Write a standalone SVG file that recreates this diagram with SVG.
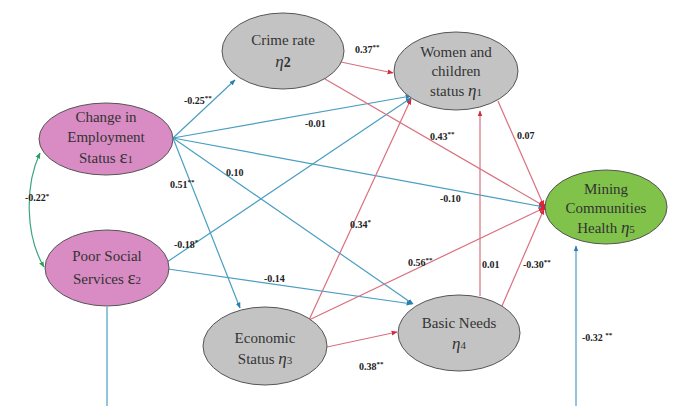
<svg xmlns="http://www.w3.org/2000/svg" width="674" height="406" viewBox="0 0 674 406" font-family="'Liberation Serif', 'Times New Roman', 'DejaVu Serif', 'Noto Serif', serif">
<style>
.node{stroke:#555;stroke-width:1}
.pink{fill:#d98bc3}
.gray{fill:#c3c3c3}
.green{fill:#80c24a}
.t{font-size:15px;fill:#333;text-anchor:middle}
.g{font-style:italic;font-size:17px}
.e{font-size:19px}
.s{font-size:11px}
.lbl{font-size:10px;font-weight:bold;fill:#222}
.sup{font-size:7px}
.b{stroke:#4a9ec2;stroke-width:1.2;fill:none}
.r{stroke:#d9707e;stroke-width:1.2;fill:none}
.c{stroke:#3aa57e;stroke-width:1.2;fill:none}
</style>
<defs>
<marker id="ab" viewBox="0 0 10 10" refX="9" refY="5" markerWidth="5" markerHeight="5" orient="auto-start-reverse"><path d="M0,1 L10,5 L0,9 z" fill="#2b7fb0"/></marker>
<marker id="ar" viewBox="0 0 10 10" refX="9" refY="5" markerWidth="5" markerHeight="5" orient="auto"><path d="M0,1 L10,5 L0,9 z" fill="#d8283c"/></marker>
<marker id="ag" viewBox="0 0 10 10" refX="9" refY="5" markerWidth="5" markerHeight="5" orient="auto-start-reverse"><path d="M0,1 L10,5 L0,9 z" fill="#27a05a"/></marker>
</defs>
<rect width="674" height="406" fill="#fff"/>
<g id="connectors">
<path class="c" d="M40,153 C25,185 25,235 44,267" marker-start="url(#ag)" marker-end="url(#ag)"/>
<line class="b" x1="173" y1="138" x2="235" y2="80" marker-end="url(#ab)"/>
<line class="b" x1="173" y1="138" x2="411" y2="96" marker-end="url(#ab)"/>
<line class="b" x1="173" y1="138" x2="544" y2="207" marker-end="url(#ab)"/>
<line class="b" x1="173" y1="138" x2="413" y2="304" marker-end="url(#ab)"/>
<line class="b" x1="173" y1="138" x2="240" y2="308" marker-end="url(#ab)"/>
<line class="b" x1="167" y1="262" x2="411" y2="98" marker-end="url(#ab)"/>
<line class="b" x1="168" y1="269" x2="412" y2="304" marker-end="url(#ab)"/>
<line class="b" x1="107" y1="307" x2="107" y2="406"/>
<line class="b" x1="576" y1="406" x2="576" y2="246" marker-end="url(#ab)"/>
<line class="r" x1="341" y1="62" x2="393" y2="73" marker-end="url(#ar)"/>
<line class="r" x1="325" y1="79" x2="544" y2="206" marker-end="url(#ar)"/>
<line class="r" x1="498" y1="101" x2="544" y2="206" marker-end="url(#ar)"/>
<line class="r" x1="309" y1="320" x2="411" y2="99" marker-end="url(#ar)"/>
<line class="r" x1="309" y1="320" x2="544" y2="208" marker-end="url(#ar)"/>
<line class="r" x1="327" y1="347" x2="397" y2="332" marker-end="url(#ar)"/>
<line class="r" x1="480" y1="296" x2="480" y2="111" marker-end="url(#ar)"/>
<line class="r" x1="502" y1="306" x2="544" y2="209" marker-end="url(#ar)"/>
<circle cx="544" cy="207" r="3" fill="#e0202e"/>
</g>
<g id="labels">
<text class="lbl" x="184" y="104">-0.25<tspan class="sup" dy="-4">**</tspan></text>
<text class="lbl" x="305" y="127">-0.01</text>
<text class="lbl" x="226" y="176">0.10</text>
<text class="lbl" x="170" y="188">0.51<tspan class="sup" dy="-4">**</tspan></text>
<text class="lbl" x="25" y="201">-0.22<tspan class="sup" dy="-3">*</tspan></text>
<text class="lbl" x="174" y="248">-0.18<tspan class="sup" dy="-4">*</tspan></text>
<text class="lbl" x="264" y="282">-0.14</text>
<text class="lbl" x="355" y="53">0.37<tspan class="sup" dy="-4">**</tspan></text>
<text class="lbl" x="430" y="140">0.43<tspan class="sup" dy="-4">**</tspan></text>
<text class="lbl" x="517" y="139">0.07</text>
<text class="lbl" x="440" y="202">-0.10</text>
<text class="lbl" x="350" y="228">0.34<tspan class="sup" dy="-4">*</tspan></text>
<text class="lbl" x="408" y="266">0.56<tspan class="sup" dy="-4">**</tspan></text>
<text class="lbl" x="482" y="268">0.01</text>
<text class="lbl" x="523" y="268">-0.30<tspan class="sup" dy="-4">**</tspan></text>
<text class="lbl" x="359" y="370">0.38<tspan class="sup" dy="-4">**</tspan></text>
<text class="lbl" x="582" y="341">-0.32 <tspan class="sup" dy="-4">**</tspan></text>
</g>
<g id="change-employment">
<ellipse class="node pink" cx="106" cy="139" rx="67" ry="36"/>
<text class="t" x="106" y="122">Change in</text>
<text class="t" x="106" y="142">Employment</text>
<text class="t" x="106" y="163">Status <tspan class="e">ε</tspan><tspan class="s">1</tspan></text>
</g>
<g id="poor-social">
<ellipse class="node pink" cx="107" cy="268" rx="62" ry="38"/>
<text class="t" x="107" y="261">Poor Social</text>
<text class="t" x="107" y="284">Services <tspan class="e">ε</tspan><tspan class="s">2</tspan></text>
</g>
<g id="crime-rate">
<ellipse class="node gray" cx="283" cy="51" rx="61" ry="38"/>
<text class="t" x="283" y="45">Crime rate</text>
<text class="t" x="283" y="67"><tspan class="g">η</tspan><tspan font-weight="bold" font-size="14">2</tspan></text>
</g>
<g id="women-children">
<ellipse class="node gray" cx="456" cy="71" rx="62" ry="39"/>
<text class="t" x="456" y="57">Women and</text>
<text class="t" x="456" y="76">children</text>
<text class="t" x="456" y="96">status <tspan class="g">η</tspan><tspan class="s">1</tspan></text>
</g>
<g id="mining-health">
<ellipse class="node green" cx="606" cy="207" rx="61" ry="37"/>
<text class="t" x="606" y="194">Mining</text>
<text class="t" x="606" y="213">Communities</text>
<text class="t" x="606" y="233">Health <tspan class="g">η</tspan><tspan class="s">5</tspan></text>
</g>
<g id="economic-status">
<ellipse class="node gray" cx="265" cy="346" rx="62" ry="39"/>
<text class="t" x="265" y="343">Economic</text>
<text class="t" x="265" y="364">Status <tspan class="g">η</tspan><tspan class="s">3</tspan></text>
</g>
<g id="basic-needs">
<ellipse class="node gray" cx="459" cy="333" rx="61" ry="38"/>
<text class="t" x="459" y="328">Basic Needs</text>
<text class="t" x="459" y="349"><tspan class="g">η</tspan><tspan class="s">4</tspan></text>
</g>
</svg>
